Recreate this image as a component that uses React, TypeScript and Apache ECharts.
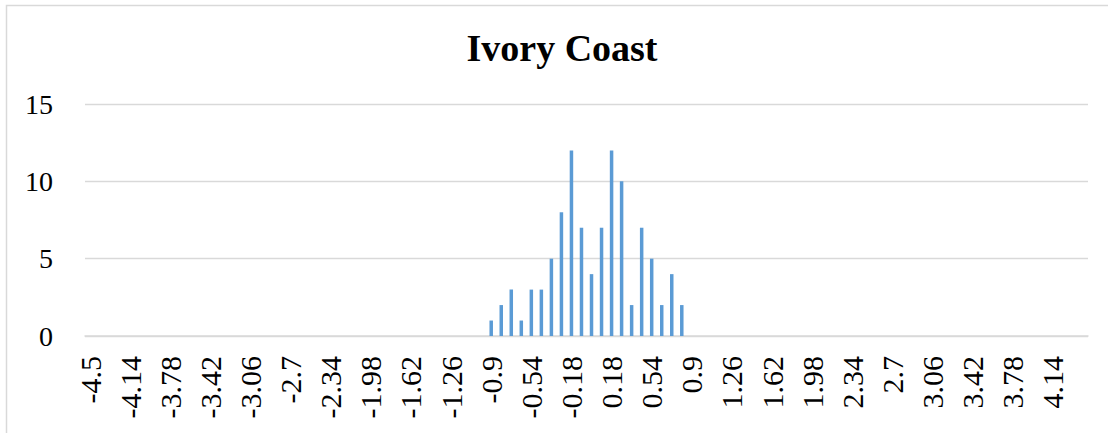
import React, { useEffect, useRef } from "react";
import * as echarts from "echarts";

const titleText = "Ivory Coast";

const categories: string[] = [
  "-4.5", "-4.41", "-4.32", "-4.23", "-4.14", "-4.05", "-3.96", "-3.87", "-3.78", "-3.69",
  "-3.6", "-3.51", "-3.42", "-3.33", "-3.24", "-3.15", "-3.06", "-2.97", "-2.88", "-2.79",
  "-2.7", "-2.61", "-2.52", "-2.43", "-2.34", "-2.25", "-2.16", "-2.07", "-1.98", "-1.89",
  "-1.8", "-1.71", "-1.62", "-1.53", "-1.44", "-1.35", "-1.26", "-1.17", "-1.08", "-0.99",
  "-0.9", "-0.81", "-0.72", "-0.63", "-0.54", "-0.45", "-0.36", "-0.27", "-0.18", "-0.09",
  "0", "0.09", "0.18", "0.27", "0.36", "0.45", "0.54", "0.63", "0.72", "0.81",
  "0.9", "0.99", "1.08", "1.17", "1.26", "1.35", "1.44", "1.53", "1.62", "1.71",
  "1.8", "1.89", "1.98", "2.07", "2.16", "2.25", "2.34", "2.43", "2.52", "2.61",
  "2.7", "2.79", "2.88", "2.97", "3.06", "3.15", "3.24", "3.33", "3.42", "3.51",
  "3.6", "3.69", "3.78", "3.87", "3.96", "4.05", "4.14", "4.23", "4.32", "4.41",
];

const counts: number[] = [
  0, 0, 0, 0, 0, 0, 0, 0, 0, 0,
  0, 0, 0, 0, 0, 0, 0, 0, 0, 0,
  0, 0, 0, 0, 0, 0, 0, 0, 0, 0,
  0, 0, 0, 0, 0, 0, 0, 0, 0, 0,
  1, 2, 3, 1, 3, 3, 5, 8, 12, 7,
  4, 7, 12, 10, 2, 7, 5, 2, 4, 2,
  0, 0, 0, 0, 0, 0, 0, 0, 0, 0,
  0, 0, 0, 0, 0, 0, 0, 0, 0, 0,
  0, 0, 0, 0, 0, 0, 0, 0, 0, 0,
  0, 0, 0, 0, 0, 0, 0, 0, 0, 0,
];

const FONT = "'Liberation Serif', 'Times New Roman', serif";

export default function App() {
  const ref = useRef<HTMLDivElement>(null);
  useEffect(() => {
    if (!ref.current) return;
    const chart = echarts.init(ref.current, null, { renderer: "svg" });
    chart.setOption({
      animation: false,
      backgroundColor: "#ffffff",
      graphic: [
        {
          type: "rect",
          shape: { x: 6.5, y: 5.5, width: 1300, height: 600 },
          style: { fill: "none", stroke: "#d9d9d9", lineWidth: 1.5 },
          silent: true,
        },
        {
          type: "text",
          x: 562,
          y: 48,
          style: {
            text: titleText,
            fontFamily: FONT,
            fontWeight: "bold",
            fontSize: 38,
            fill: "#000000",
            textAlign: "center",
            textVerticalAlign: "middle",
          },
        },
      ],
      grid: { left: 85, right: 20, top: 104, bottom: 97, containLabel: false },
      xAxis: {
        type: "category",
        data: categories,
        axisTick: { show: false },
        axisLine: { show: true, lineStyle: { color: "#d9d9d9", width: 1.5 } },
        axisLabel: {
          interval: 3,
          rotate: 90,
          margin: 20,
          fontFamily: FONT,
          fontSize: 30,
          color: "#000000",
        },
      },
      yAxis: {
        type: "value",
        min: 0,
        max: 15,
        interval: 5,
        axisLine: { show: false },
        axisTick: { show: false },
        splitLine: { lineStyle: { color: "#d9d9d9", width: 1.3 } },
        axisLabel: {
          margin: 32,
          fontFamily: FONT,
          fontSize: 28,
          color: "#000000",
        },
      },
      series: [
        {
          type: "bar",
          data: counts,
          barWidth: 3.5,
          itemStyle: { color: "#5b9bd5" },
        },
      ],
    });
    return () => chart.dispose();
  }, []);
  return (
    <div
      ref={ref}
      style={{ position: "fixed", left: 0, top: 0, width: 1108, height: 433 }}
    />
  );
}
